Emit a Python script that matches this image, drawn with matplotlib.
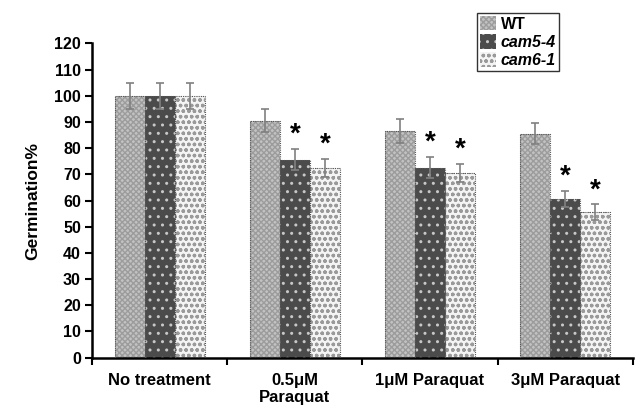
import numpy as np
import matplotlib
matplotlib.use("Agg")
import matplotlib.pyplot as plt
from matplotlib.patches import Patch

plt.rcParams['font.family'] = ['Liberation Sans', 'DejaVu Sans']
plt.rcParams['font.weight'] = 'bold'
plt.rcParams['hatch.linewidth'] = 1.0

# data
categories = ["No treatment", "0.5\u03bcM\nParaquat", "1\u03bcM Paraquat", "3\u03bcM Paraquat"]
wt = [100, 90.5, 86.5, 85.5]
wt_err = [5, 4.5, 4.5, 4]
cam5 = [100, 75.5, 72.5, 60.5]
cam5_err = [5, 4, 4, 3]
cam6 = [100, 72.5, 70.5, 55.5]
cam6_err = [5, 3.5, 3.5, 3]
cam5_sig = [False, True, True, True]
cam6_sig = [False, True, True, True]

series = [
    ("WT", wt, wt_err, None, '#c2c2c2', '#9c9c9c', 'xxxxxx'),
    ("cam5-4", cam5, cam5_err, cam5_sig, '#4b4b4b', '#c8c8c8', '..'),
    ("cam6-1", cam6, cam6_err, cam6_sig, '#f4f4f4', '#9a9a9a', 'ooo'),
]

fig = plt.figure(figsize=(6.36, 4.11), dpi=100)
ax = fig.add_axes([0.1447, 0.1297, 0.8503, 0.7649])

x = np.arange(len(categories)) + 0.5
w = 0.222

for k, (name, vals, errs, sig, face, hcol, hatch) in enumerate(series):
    pos = x + (k - 1) * w
    ax.bar(pos, vals, w, color=face, edgecolor=hcol, hatch=hatch, linewidth=0, zorder=2)
    ax.bar(pos, vals, w, color='none', edgecolor='#555555', linewidth=0.8,
           linestyle=(0, (1, 1)), zorder=3)
    ax.errorbar(pos, vals, yerr=errs, fmt='none', ecolor='#808080', elinewidth=1.2,
                capsize=3, capthick=1.2, zorder=4)
    if sig is not None:
        for p, v, e, s in zip(pos, vals, errs, sig):
            if s:
                ax.text(p, v + e + 0.5, '*', ha='center', va='bottom',
                        fontsize=20, fontweight='bold', zorder=5)

ax.set_xlim(0, 4)
ax.set_ylim(0, 120)
ax.set_yticks(np.arange(0, 121, 10))
ax.set_xticks(np.arange(0, 5))
ax.set_xticklabels([])
ax.set_xticks(x, minor=True)
ax.set_xticklabels(categories, minor=True, fontsize=12, fontweight='bold')
ax.tick_params(axis='x', which='minor', length=0, pad=11)
ax.tick_params(axis='x', which='major', length=5, width=1.5, direction='out')
ax.tick_params(axis='y', length=5, width=1.5, labelsize=11.5, pad=3)
for lab in ax.get_yticklabels():
    lab.set_fontweight('bold')

for s in ['top', 'right']:
    ax.spines[s].set_visible(False)
for s in ['left', 'bottom']:
    ax.spines[s].set_linewidth(1.8)

ax.set_ylabel('Germination%', fontsize=12.5, fontweight='bold', labelpad=10)

handles = [Patch(facecolor=f, edgecolor=h, hatch=ht, linewidth=0) for _, _, _, _, f, h, ht in series]
leg = fig.legend(handles, [s[0] for s in series], loc='upper left',
                 bbox_to_anchor=(477 / 636, 1 - 13 / 411), frameon=True, fancybox=False,
                 edgecolor='black', fontsize=11.5, handlelength=1.0, handleheight=1.0,
                 handletextpad=0.3, borderpad=0.2, labelspacing=0.15, borderaxespad=0)
leg.get_frame().set_linewidth(1.0)
for i, t in enumerate(leg.get_texts()):
    t.set_fontweight('bold')
    if i > 0:
        t.set_fontstyle('italic')

fig.savefig('out.png', dpi=100)
